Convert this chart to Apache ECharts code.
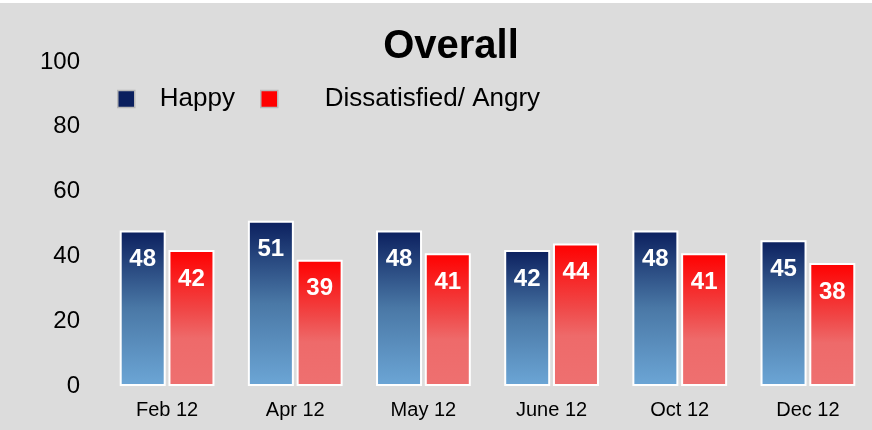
<!DOCTYPE html>
<html>
<head>
<meta charset="utf-8">
<script src="https://cdn.jsdelivr.net/npm/echarts@6/dist/echarts.min.js"></script>
<style>
  html, body { margin: 0; padding: 0; background: #ffffff; }
  #chart { position: absolute; left: 0; top: 3px; width: 872px; height: 427px; }
</style>
</head>
<body>
<div id="chart"></div>
<script>
// data
const months = ['Feb 12', 'Apr 12', 'May 12', 'June 12', 'Oct 12', 'Dec 12']
const happy = [48, 51, 48, 42, 48, 45]
const angry = [42, 39, 41, 44, 41, 38]
const yTicks = [0, 20, 40, 60, 80, 100]

const font = 'Liberation Sans, Arial, sans-serif'
const chart = echarts.init(document.getElementById('chart'))

// gradient for each bar: dark at top, light at bottom
const blueFill = new echarts.graphic.LinearGradient(0, 0, 0, 1, [
  { offset: 0, color: '#0b1f5e' },
  { offset: 0.5, color: '#4a78a6' },
  { offset: 1, color: '#6ca6d6' }
])
const redFill = new echarts.graphic.LinearGradient(0, 0, 0, 1, [
  { offset: 0, color: '#ff0000' },
  { offset: 0.45, color: '#f04848' },
  { offset: 0.65, color: '#ee6a6a' },
  { offset: 1, color: '#ee7070' }
])

const valueLabel = {
  show: true,
  position: 'insideTop',
  distance: 17,
  color: '#ffffff',
  fontWeight: 'bold',
  fontSize: 24,
  fontFamily: font
}

const legendText = { fontSize: 26, color: '#000', fontFamily: font }

chart.setOption({
  backgroundColor: '#dcdcdc',
  animation: false,
  title: {
    text: 'Overall',
    left: 446,
    textAlign: 'center',
    top: 19,
    textStyle: { fontSize: 40, fontWeight: 'bold', color: '#000', fontFamily: font }
  },
  legend: [
    {
      data: [{ name: 'Happy', itemStyle: { color: '#0a1f5e' } }],
      left: 112,
      top: 78,
      itemWidth: 17,
      itemHeight: 17,
      icon: 'rect',
      itemStyle: { borderColor: '#b8b8b8', borderWidth: 1.5 },
      textStyle: Object.assign({ padding: [0, 0, 0, 20] }, legendText)
    },
    {
      data: [{ name: 'Dissatisfied/ Angry', itemStyle: { color: '#ff0000' } }],
      left: 255,
      top: 78,
      itemWidth: 17,
      itemHeight: 17,
      icon: 'rect',
      itemStyle: { borderColor: '#b8b8b8', borderWidth: 1.5 },
      textStyle: Object.assign({ padding: [0, 0, 0, 42] }, legendText)
    }
  ],
  grid: { left: 103, right: 0, top: 59, bottom: 44 },
  xAxis: {
    type: 'category',
    data: months,
    axisLine: { show: false },
    axisTick: { show: false },
    axisLabel: { fontSize: 20, color: '#000', fontFamily: font, margin: 14 }
  },
  yAxis: {
    type: 'value',
    min: yTicks[0],
    max: yTicks[yTicks.length - 1],
    interval: 20,
    splitLine: { show: false },
    axisLine: { show: false },
    axisTick: { show: false },
    axisLabel: { fontSize: 24, color: '#000', fontFamily: font, margin: 23 }
  },
  series: [
    {
      name: 'Happy',
      type: 'bar',
      data: happy,
      barWidth: 46,
      barGap: '6%',
      itemStyle: { color: blueFill, borderColor: '#ffffff', borderWidth: 2 },
      label: valueLabel
    },
    {
      name: 'Dissatisfied/ Angry',
      type: 'bar',
      data: angry,
      barWidth: 46,
      itemStyle: { color: redFill, borderColor: '#ffffff', borderWidth: 2 },
      label: valueLabel
    }
  ]
})
</script>
</body>
</html>
